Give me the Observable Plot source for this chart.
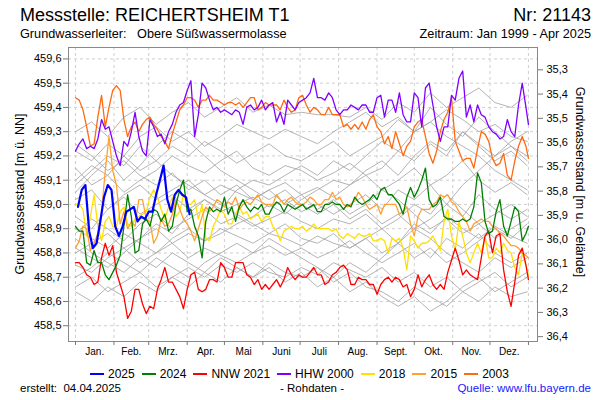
<!DOCTYPE html>
<html><head><meta charset="utf-8">
<script src="https://cdn.jsdelivr.net/npm/d3@7"></script>
<script src="https://cdn.jsdelivr.net/npm/@observablehq/plot@0.6"></script>
<style>
body{margin:0;background:#fff;font-family:"Liberation Sans",Arial,sans-serif;}
#wrap{position:relative;width:600px;height:400px;overflow:hidden;background:#fff}
.t{position:absolute;white-space:nowrap;color:#000;line-height:1}
#legend{position:absolute;left:90px;top:367px;display:flex;gap:7px;font-size:12px;white-space:nowrap}
#legend span.i{display:flex;align-items:center}
#legend span.s{display:inline-block;width:14px;height:2px;margin-right:4px}
</style></head><body><div id="wrap"></div>
<script>
// ---- axis / tick definitions ----
const monthLabels = ["Jan.","Feb.","Mrz.","Apr.","Mai","Juni","Juli","Aug.","Sept.","Okt.","Nov.","Dez."];
const monthStarts = [0,31,59,90,120,151,181,212,243,273,304,334,365];
const levelTicks = [458.5,458.6,458.7,458.8,458.9,459.0,459.1,459.2,459.3,459.4,459.5,459.6];
const depthTicks = [35.3,35.4,35.5,35.6,35.7,35.8,35.9,36.0,36.1,36.2,36.3,36.4];
const surfaceLevel = 494.855;

// ---- highlighted years (levels m ü. NN) ----
// 2025: every 3 days from day 2
const blue2025 = [458.99,459.06,459.08,458.89,458.82,458.84,458.93,459.03,459.08,459.06,458.91,458.87,458.91,458.97,458.98,458.99,458.93,458.95,458.94,458.97,458.97,459.04,459.10,459.16,459.02,458.97,459.04,459.06,459.04,459.03,458.96];
// full years: every 3 days from Jan 1, last value at Dec 31
const green2024 = [458.91,458.89,458.89,458.76,458.75,458.81,458.76,458.76,458.71,458.69,458.72,458.75,458.79,458.91,459.04,458.95,458.80,458.81,458.92,458.94,458.91,458.98,458.97,458.93,458.96,458.89,458.91,459.00,459.06,459.10,458.97,458.98,458.91,458.87,458.78,458.93,458.99,458.97,458.98,458.97,459.03,458.96,458.99,458.93,458.99,459.02,458.99,458.97,458.99,458.98,459.00,458.96,458.96,458.99,459.01,459.00,458.97,459.00,458.99,458.98,458.99,
 459.00,458.98,458.99,459.00,458.97,458.97,459.00,459.00,459.01,459.00,459.00,458.98,459.00,458.99,459.03,459.01,459.00,459.01,459.02,459.04,459.02,459.06,459.07,459.04,459.04,459.02,459.00,458.96,459.03,459.07,459.03,459.06,459.10,459.15,459.02,458.99,459.00,459.03,458.95,458.94,458.94,458.93,458.93,458.94,458.93,458.94,458.99,459.13,459.09,458.93,458.88,458.89,458.97,459.02,458.91,458.87,458.93,458.99,458.97,458.85,458.88,458.91];
const red2021 = [458.76,458.76,458.74,458.71,458.70,458.67,458.68,458.78,458.84,458.79,458.83,458.72,458.67,458.62,458.53,458.56,458.65,458.65,458.59,458.55,458.58,458.57,458.65,458.69,458.74,458.68,458.68,458.65,458.62,458.57,458.65,458.71,458.72,458.65,458.64,458.65,458.69,458.69,458.68,458.76,458.74,458.70,458.70,458.76,458.76,458.76,458.71,458.70,458.67,458.69,458.65,458.67,458.65,458.67,458.69,458.66,458.69,458.74,458.71,458.69,458.71,
 458.70,458.70,458.72,458.74,458.71,458.71,458.67,458.68,458.71,458.72,458.74,458.75,458.73,458.67,458.67,458.70,458.69,458.69,458.67,458.67,458.63,458.67,458.69,458.70,458.68,458.70,458.69,458.66,458.67,458.62,458.65,458.71,458.66,458.69,458.71,458.67,458.65,458.67,458.65,458.72,458.77,458.82,458.77,458.71,458.73,458.71,458.70,458.69,458.78,458.87,458.89,458.80,458.87,458.88,458.73,458.64,458.58,458.68,458.79,458.82,458.75,458.69];
const purple2000 = [459.22,459.25,459.27,459.23,459.24,459.23,459.27,459.35,459.31,459.32,459.26,459.20,459.16,459.26,459.24,459.30,459.38,459.28,459.22,459.20,459.35,459.32,459.28,459.29,459.25,459.30,459.33,459.38,459.41,459.42,459.47,459.51,459.28,459.37,459.50,459.48,459.43,459.39,459.40,459.38,459.39,459.38,459.37,459.39,459.38,459.33,459.40,459.41,459.39,459.40,459.43,459.39,459.41,459.42,459.34,459.38,459.33,459.43,459.41,459.39,459.42,
 459.43,459.44,459.46,459.52,459.44,459.44,459.43,459.46,459.44,459.39,459.37,459.39,459.39,459.41,459.40,459.39,459.41,459.41,459.38,459.38,459.44,459.45,459.36,459.43,459.43,459.38,459.46,459.37,459.34,459.34,459.46,459.44,459.32,459.48,459.50,459.41,459.32,459.26,459.32,459.32,459.45,459.43,459.52,459.55,459.36,459.41,459.34,459.41,459.37,459.36,459.32,459.30,459.29,459.27,459.28,459.35,459.30,459.28,459.41,459.50,459.40,459.33];
const yellow2018 = [459.00,459.00,458.98,458.87,458.95,459.04,458.91,458.85,458.93,458.95,458.91,458.91,458.97,458.99,458.92,458.91,458.94,458.95,458.96,458.97,459.03,459.06,459.03,458.98,458.94,458.99,459.03,458.95,458.97,459.04,459.00,459.00,459.02,458.94,459.00,458.86,458.85,458.91,458.94,458.98,458.96,458.92,458.92,458.96,458.99,458.96,458.97,458.94,458.95,458.96,458.93,458.95,458.95,458.91,458.89,458.85,458.89,458.90,458.91,458.90,458.90,
 458.91,458.89,458.90,458.92,458.90,458.90,458.90,458.90,458.89,458.90,458.87,458.86,458.88,458.87,458.86,458.88,458.87,458.87,458.88,458.85,458.85,458.86,458.85,458.80,458.86,458.85,458.86,458.82,458.73,458.87,458.85,458.82,458.84,458.84,458.85,458.87,458.84,458.81,458.93,458.98,458.87,458.81,458.93,458.87,458.80,458.76,458.80,458.84,458.80,458.87,458.78,458.78,458.82,458.80,458.84,458.81,458.80,458.74,458.71,458.80,458.75,458.71];
const orange2015 = [458.82,458.85,458.91,458.90,458.81,458.84,458.88,458.97,459.14,459.28,459.14,459.08,458.92,458.97,458.90,458.93,458.91,459.02,459.02,458.94,458.93,458.84,458.87,458.94,458.91,458.92,458.96,459.02,458.98,458.94,458.92,458.89,458.85,458.90,458.95,458.99,458.97,458.99,459.02,459.01,458.99,459.01,459.00,459.03,458.98,459.00,459.01,459.00,459.02,459.04,459.01,459.00,459.00,459.00,459.04,459.02,459.00,459.02,459.03,459.01,459.00,
 459.00,459.01,459.03,459.02,459.00,459.00,459.02,459.02,459.05,459.02,459.03,459.00,458.99,459.00,459.02,459.05,459.03,459.00,458.98,458.99,459.00,458.96,459.00,459.00,459.00,459.00,458.96,458.97,458.99,458.92,458.87,458.95,458.98,458.98,458.98,459.00,459.01,459.04,459.03,459.04,459.01,459.00,458.97,458.95,458.93,458.89,458.92,458.93,458.94,458.93,458.93,458.91,458.90,458.88,458.87,458.85,458.83,458.83,458.82,458.80,458.79,458.78];
const orange2003 = [459.44,459.43,459.39,459.32,459.24,459.25,459.36,459.45,459.32,459.40,459.47,459.49,459.47,459.35,459.28,459.32,459.34,459.30,459.33,459.35,459.36,459.33,459.31,459.28,459.26,459.23,459.29,459.34,459.39,459.41,459.44,459.44,459.43,459.40,459.43,459.43,459.45,459.43,459.43,459.42,459.41,459.42,459.42,459.41,459.42,459.40,459.42,459.44,459.44,459.39,459.40,459.42,459.41,459.41,459.41,459.39,459.43,459.40,459.38,459.39,459.44,
 459.45,459.41,459.38,459.40,459.39,459.37,459.37,459.40,459.37,459.37,459.37,459.32,459.33,459.31,459.33,459.31,459.34,459.31,459.35,459.37,459.32,459.30,459.25,459.28,459.23,459.30,459.25,459.20,459.24,459.26,459.32,459.34,459.35,459.28,459.21,459.17,459.22,459.30,459.35,459.38,459.44,459.26,459.22,459.18,459.19,459.19,459.15,459.23,459.30,459.29,459.26,459.19,459.16,459.17,459.21,459.12,459.10,459.18,459.24,459.28,459.24,459.19];

// ---- other years (grey), every 13 days ----
const grey01 = [459.30,459.34,459.28,459.36,459.40,459.33,459.38,459.42,459.36,459.40,459.44,459.38,459.41,459.37,459.38,459.37,459.37,459.36,459.40,459.35,459.42,459.38,459.46,459.40,459.44,459.48,459.42,459.40,459.45];
const grey02 = [459.22,459.18,459.25,459.20,459.28,459.32,459.26,459.30,459.24,459.28,459.33,459.30,459.27,459.31,459.28,459.25,459.30,459.34,459.38,459.32,459.36,459.30,459.34,459.39,459.35,459.30,459.33,459.28,459.26];
const grey03 = [459.10,459.16,459.12,459.20,459.14,459.18,459.24,459.20,459.26,459.22,459.17,459.21,459.25,459.20,459.18,459.22,459.26,459.20,459.24,459.28,459.35,459.30,459.40,459.33,459.28,459.36,459.30,459.24,459.20];
const grey04 = [459.15,459.08,459.12,459.05,459.10,459.14,459.20,459.16,459.13,459.18,459.22,459.15,459.12,459.16,459.14,459.10,459.13,459.17,459.12,459.15,459.22,459.18,459.25,459.20,459.30,459.24,459.18,459.22,459.16];
const grey05 = [459.02,459.06,458.98,459.04,459.08,459.02,459.06,459.10,459.04,459.08,459.05,459.02,459.06,459.09,459.04,459.07,459.03,459.08,459.12,459.06,459.10,459.15,459.08,459.12,459.18,459.10,459.05,459.09,459.04];
const grey06 = [458.95,458.90,458.98,459.03,458.96,459.00,459.04,458.98,459.02,458.97,459.00,459.03,458.99,459.02,458.97,459.00,458.96,459.00,459.04,458.98,459.06,459.02,459.08,459.00,458.95,459.04,458.98,458.94,458.98];
const grey07 = [458.88,458.94,458.90,458.85,458.92,458.96,458.90,458.94,458.98,458.92,458.95,458.91,458.94,458.97,458.93,458.90,458.94,458.92,458.96,458.90,458.94,459.00,458.96,459.04,458.98,458.92,458.96,459.00,458.95];
const grey08 = [458.80,458.84,458.88,458.82,458.86,458.90,458.84,458.88,458.85,458.90,458.87,458.84,458.88,458.86,458.83,458.87,458.84,458.82,458.86,458.90,458.84,458.92,458.88,458.95,458.90,458.86,458.91,458.87,458.84];
const grey09 = [458.75,458.72,458.78,458.82,458.76,458.80,458.84,458.78,458.82,458.79,458.76,458.80,458.83,458.79,458.82,458.78,458.81,458.85,458.80,458.76,458.80,458.84,458.78,458.86,458.82,458.88,458.80,458.76,458.80];
const grey10 = [458.66,458.70,458.64,458.68,458.72,458.66,458.70,458.74,458.70,458.75,458.72,458.76,458.72,458.70,458.74,458.71,458.76,458.73,458.70,458.74,458.68,458.72,458.66,458.70,458.64,458.68,458.72,458.66,458.70];
const grey11 = [458.64,458.60,458.66,458.62,458.68,458.64,458.70,458.66,458.72,458.68,458.74,458.70,458.76,458.72,458.70,458.74,458.68,458.72,458.66,458.64,458.60,458.66,458.62,458.58,458.64,458.60,458.66,458.62,458.64];
const grey12 = [458.90,458.86,458.82,458.88,458.84,458.80,458.86,458.90,458.85,458.88,458.92,458.95,459.00,458.96,459.02,459.06,459.10,459.08,459.14,459.18,459.12,459.20,459.26,459.22,459.30,459.25,459.20,459.24,459.18];
const grey13 = [459.08,459.14,459.20,459.16,459.24,459.18,459.12,459.08,459.04,459.00,458.96,458.92,458.88,458.92,458.86,458.84,458.88,458.82,458.86,458.80,458.84,458.78,458.82,458.76,458.80,458.85,458.90,458.86,458.92];
const grey14 = [458.82,458.78,458.74,458.80,458.86,458.92,458.88,458.96,459.02,458.98,459.06,459.10,459.08,459.12,459.16,459.12,459.18,459.14,459.20,459.26,459.22,459.30,459.34,459.28,459.24,459.20,459.14,459.10,459.06];
const grey15 = [459.25,459.20,459.14,459.18,459.12,459.08,459.13,459.06,459.10,459.04,459.08,459.02,459.06,459.00,459.04,458.98,459.02,458.96,459.00,459.06,459.02,458.96,458.90,458.94,458.88,458.92,458.86,458.90,458.94];
const grey16 = [458.70,458.74,458.80,458.76,458.72,458.78,458.74,458.70,458.76,458.80,458.84,458.80,458.86,458.82,458.78,458.74,458.70,458.76,458.72,458.78,458.84,458.90,458.86,458.80,458.76,458.72,458.78,458.74,458.78];
const grey17 = [459.05,459.12,459.18,459.10,459.16,459.24,459.30,459.26,459.20,459.14,459.10,459.06,459.02,459.06,459.00,458.96,459.00,458.94,458.98,458.92,458.96,458.90,458.94,459.00,459.08,459.14,459.20,459.26,459.30];
const grey18 = [458.86,458.80,458.76,458.72,458.78,458.74,458.80,458.76,458.72,458.78,458.74,458.70,458.74,458.68,458.72,458.66,458.70,458.64,458.68,458.62,458.58,458.62,458.56,458.60,458.66,458.70,458.64,458.68,458.72];

// ---- legend names and colours ----
const seriesNames = ["2025","2024","NNW 2021","HHW 2000","2018","2015","2003"];
const seriesColors = ["#0000ff","#008000","#ff0000","#8000ff","#ffe000","#ffa030","#ff6a10"];

// ---- build tables ----
const greyList = [grey01,grey02,grey03,grey04,grey05,grey06,grey07,grey08,grey09,grey10,grey11,grey12,grey13,grey14,grey15,grey16,grey17,grey18];
const greyRows = greyList.flatMap((arr, k) => arr.map((v, i) => ({id: k, day: Math.min(i * 13, 365), v})));
const full = (arr) => arr.map((v, i) => ({day: Math.min(i * 3, 365), v}));
const blueRows = blue2025.map((v, i) => ({day: 2 + i * 3, v}));
const drawOrder = [[yellow2018, 4], [orange2015, 5], [orange2003, 6], [purple2000, 3], [red2021, 2], [green2024, 1]];
const monthMids = monthStarts.slice(0, 12).map((d, i) => (d + monthStarts[i + 1]) / 2);
const fmt = (v) => v.toFixed(1).replace(".", ",");

const marks = [
  Plot.gridY(levelTicks, {stroke: "#cfcfcf", strokeOpacity: 1, strokeDasharray: "3,3"}),
  Plot.gridX(monthStarts, {stroke: "#cfcfcf", strokeOpacity: 1, strokeDasharray: "3,3"}),
  Plot.line(greyRows, {x: "day", y: "v", z: "id", stroke: "#a6a6a6", strokeWidth: 1, strokeOpacity: 0.85, clip: true}),
  ...drawOrder.map(([arr, ci]) => Plot.line(full(arr), {x: "day", y: "v", stroke: seriesColors[ci], strokeWidth: 1.3, clip: true})),
  Plot.line(blueRows, {x: "day", y: "v", stroke: seriesColors[0], strokeWidth: 2.2, clip: true}),
  Plot.frame({stroke: "#888"}),
  Plot.axisY(levelTicks, {anchor: "left", tickSize: 5, tickPadding: 2, tickFormat: fmt, fontSize: 11, stroke: "#777", label: null}),
  Plot.axisY(depthTicks.map(d => surfaceLevel - d), {anchor: "right", tickSize: 5, tickPadding: 4, tickFormat: v => fmt(surfaceLevel - v), fontSize: 11, stroke: "#777", label: null}),
  Plot.axisX(monthStarts, {tickSize: 4, tickFormat: () => "", stroke: "#777", label: null}),
  Plot.axisX(monthMids, {tickSize: 0, tickPadding: 6, tickFormat: (d, i) => monthLabels[i], fontSize: 10, label: null})
];

const chart = Plot.plot({
  width: 600, height: 400,
  marginLeft: 68, marginRight: 63, marginTop: 47, marginBottom: 59,
  style: {fontFamily: '"Liberation Sans", Arial, sans-serif', fontSize: "11px", background: "transparent", color: "#000"},
  x: {type: "linear", domain: [-5.64, 372.3], axis: null},
  y: {type: "linear", domain: [458.435, 459.647], axis: null},
  marks
});
chart.style.position = "absolute"; chart.style.left = "0"; chart.style.top = "0";
const wrap = document.getElementById("wrap");
wrap.append(chart);

function addText(txt, css) {
  const d = document.createElement("div");
  d.className = "t"; d.textContent = txt;
  Object.assign(d.style, css);
  wrap.append(d); return d;
}
addText("Messstelle: REICHERTSHEIM T1", {left: "20px", top: "6px", fontSize: "18px"});
addText("Nr: 21143", {right: "9px", top: "6px", fontSize: "18px"});
addText("Grundwasserleiter:   Obere Süßwassermolasse", {left: "20px", top: "28px", fontSize: "12.7px", whiteSpace: "pre"});
addText("Zeitraum: Jan 1999 - Apr 2025", {right: "9px", top: "28px", fontSize: "12.7px"});
addText("Grundwasserstand [m ü. NN]", {left: "20px", top: "194px", fontSize: "12.5px", transform: "translate(-50%,-50%) rotate(-90deg)"});
addText("Grundwasserstand [m u. Gelände]", {left: "580px", top: "182px", fontSize: "12.5px", transform: "translate(-50%,-50%) rotate(90deg)"});
addText("erstellt:  04.04.2025", {left: "20px", top: "383px", fontSize: "11.5px", whiteSpace: "pre"});
addText("- Rohdaten -", {left: "312px", top: "383px", fontSize: "11.5px", transform: "translateX(-50%)"});
addText("Quelle: www.lfu.bayern.de", {right: "9px", top: "383px", fontSize: "11.5px", color: "#2020ff"});

const lg = document.createElement("div"); lg.id = "legend";
seriesNames.forEach((n, i) => {
  const it = document.createElement("span"); it.className = "i";
  const sw = document.createElement("span"); sw.className = "s"; sw.style.background = seriesColors[i];
  it.append(sw, document.createTextNode(n));
  lg.append(it);
});
wrap.append(lg);
</script></body></html>
